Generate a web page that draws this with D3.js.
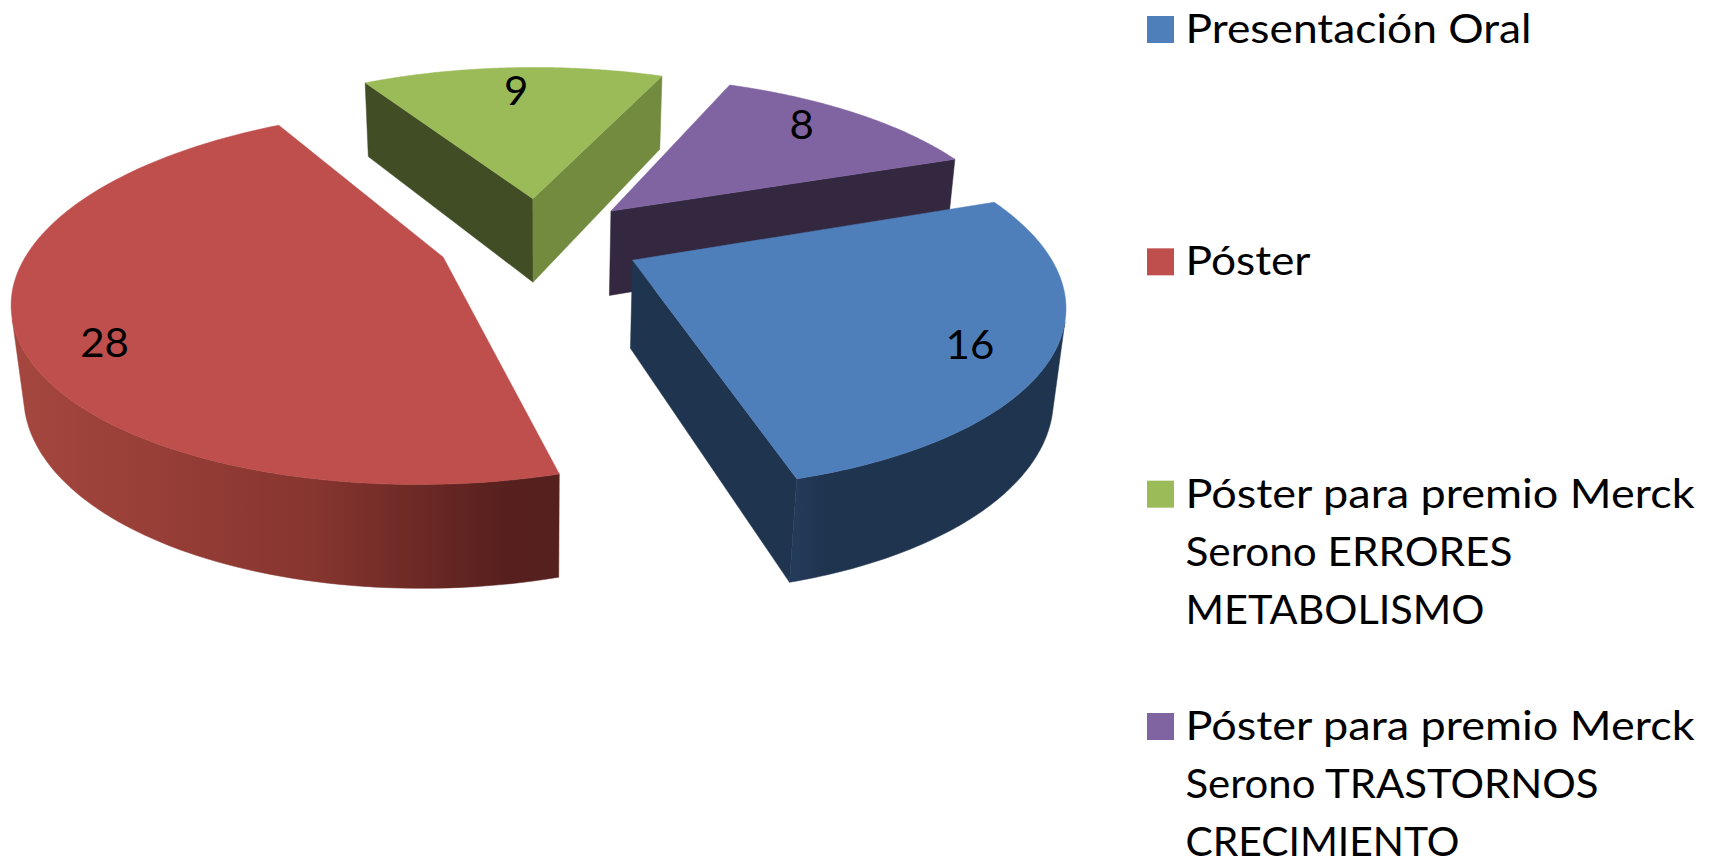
<!DOCTYPE html>
<html>
<head>
<meta charset="utf-8">
<script src="https://cdn.jsdelivr.net/npm/d3@7"></script>
<style>
  body { margin: 0; background: #fff; }
  text { font-family: Lato, "Open Sans", sans-serif; fill: #000; }
</style>
</head>
<body>
<div id="chart"></div>
<script>
const categories = [
  "Presentación Oral",
  "Póster",
  "Póster para premio Merck Serono ERRORES METABOLISMO",
  "Póster para premio Merck Serono TRASTORNOS CRECIMIENTO"
];
const values = [16, 28, 9, 8];
const legendLines = [
  ["Presentación Oral"],
  ["Póster"],
  ["Póster para premio Merck", "Serono ERRORES", "METABOLISMO"],
  ["Póster para premio Merck", "Serono TRASTORNOS", "CRECIMIENTO"]
];
// the reference font runs wider than Lato, so each line gets its own length
const legendWidths = [[346], [125], [509, 327, 299], [509, 413, 274]];
const topColors = ["#4E7FBB", "#BE4F4C", "#9BBB59", "#8064A2"];
const startWallColors = ["#1F344F", "#55201E", "#414D24", "#33283F"];
const endWallColors = ["#1F344F", "#55201E", "#728B3F", "#33283F"];
const rimStops = [
  [[0, "#243A59"], [0.1, "#1F344F"], [1, "#1F344F"]],
  [[0, "#A5473F"], [0.55, "#87352F"], [0.9, "#57201E"], [1, "#55201E"]],
  [[0, "#728B3F"], [1, "#728B3F"]],
  [[0, "#33283F"], [1, "#33283F"]]
];
const labelRadius = [0.815, 0.806, 0.795, 0.76];
const labelShift = [11, 25, 0, -10];

const width = 1715, height = 859;

// 3D pie set up: 25 deg tilt, first slice at 70 deg, 25% explosion
const tilt = 25 * Math.PI / 180;
const firstAngle = 70 * Math.PI / 180;
const explosion = 0.25;
const cx = 539.3, cy = 239.9, radius = 409.6;
const camDist = 4.456;
const depth = 0.2386;

const arcs = d3.pie().sort(null)
  .startAngle(firstAngle)
  .endAngle(firstAngle + 2 * Math.PI)(values);

function project(x, y, z) {
  const w = camDist - (y * Math.cos(tilt) + z * Math.sin(tilt));
  return [
    cx + radius * camDist * x / w,
    cy + radius * camDist * (y * Math.sin(tilt) - z * Math.cos(tilt)) / w
  ];
}

// centre of an exploded slice on the pie plane
function offset(d) {
  const mid = (d.startAngle + d.endAngle) / 2;
  return [explosion * Math.sin(mid), -explosion * Math.cos(mid)];
}

function planePoint(d, rho, phi) {
  const o = offset(d);
  return [o[0] + rho * Math.sin(phi), o[1] - rho * Math.cos(phi)];
}

function facesCamera(p, n) {
  return (-p[0]) * n[0] + (camDist * Math.cos(tilt) - p[1]) * n[1] > 0;
}

function arcAngles(d) {
  return d3.range(0, 121).map(k => d.startAngle + (d.endAngle - d.startAngle) * k / 120);
}

function labelPoint(d, i) {
  const p = planePoint(d, labelRadius[i], (d.startAngle + d.endAngle) / 2);
  return project(p[0], p[1], 0);
}

const svg = d3.select("#chart").append("svg")
  .attr("width", width)
  .attr("height", height);
const defs = svg.append("defs");
const line = d3.line();

function wall(g, pts, fill) {
  const topPts = pts.map(p => project(p[0], p[1], 0));
  const botPts = pts.map(p => project(p[0], p[1], -depth)).reverse();
  g.append("path")
    .attr("d", line(topPts.concat(botPts)) + "Z")
    .attr("fill", fill)
    .attr("stroke", fill)
    .attr("stroke-width", 0.5);
}

// back slices first, blue goes over the purple wall
[2, 3, 1, 0].forEach(i => {
  const d = arcs[i];
  const g = svg.append("g");
  const apex = planePoint(d, 0, 0);

  const startRim = planePoint(d, 1, d.startAngle);
  const startNormal = [-Math.cos(d.startAngle), -Math.sin(d.startAngle)];
  if (facesCamera(apex, startNormal)) wall(g, [apex, startRim], startWallColors[i]);

  const endRim = planePoint(d, 1, d.endAngle);
  const endNormal = [Math.cos(d.endAngle), Math.sin(d.endAngle)];
  if (facesCamera(apex, endNormal)) wall(g, [apex, endRim], endWallColors[i]);

  const front = arcAngles(d).filter(phi =>
    facesCamera(planePoint(d, 1, phi), [Math.sin(phi), -Math.cos(phi)]));
  if (front.length > 1) {
    const rimPts = front.map(phi => planePoint(d, 1, phi));
    const xs = d3.extent(rimPts.map(p => project(p[0], p[1], 0)[0]));
    const grad = defs.append("linearGradient")
      .attr("id", "rim" + i)
      .attr("gradientUnits", "userSpaceOnUse")
      .attr("x1", xs[0])
      .attr("x2", xs[1])
      .attr("y1", 0)
      .attr("y2", 0);
    rimStops[i].forEach(s => grad.append("stop").attr("offset", s[0]).attr("stop-color", s[1]));
    wall(g, rimPts, `url(#rim${i})`);
  }

  const outline = [apex].concat(arcAngles(d).map(phi => planePoint(d, 1, phi)));
  g.append("path")
    .attr("d", line(outline.map(p => project(p[0], p[1], 0))) + "Z")
    .attr("fill", topColors[i])
    .attr("stroke", topColors[i])
    .attr("stroke-width", 0.5);
});

// data labels
svg.append("g").selectAll("text")
  .data(arcs)
  .join("text")
  .attr("transform", (d, i) => {
    const q = labelPoint(d, i);
    return `translate(${q[0]},${q[1] + labelShift[i]}) scale(1.05,1)`;
  })
  .attr("dy", "0.357em")
  .attr("text-anchor", "middle")
  .attr("font-size", 40)
  .text(d => d.data);

// legend
const legendY = d3.scalePoint().domain(categories).range([16, 713]);
const legend = svg.append("g").selectAll("g")
  .data(categories)
  .join("g")
  .attr("transform", d => `translate(1147,${legendY(d)})`);

legend.append("rect")
  .attr("width", 27)
  .attr("height", 27)
  .attr("fill", (d, i) => topColors[i]);

legend.each(function (d, i) {
  d3.select(this).selectAll("text")
    .data(legendLines[i])
    .join("text")
    .attr("x", 38.5)
    .attr("y", (l, k) => 27 + k * 58)
    .attr("font-size", 40)
    .attr("textLength", (l, k) => legendWidths[i][k])
    .attr("lengthAdjust", "spacingAndGlyphs")
    .text(l => l);
});
</script>
</body>
</html>
